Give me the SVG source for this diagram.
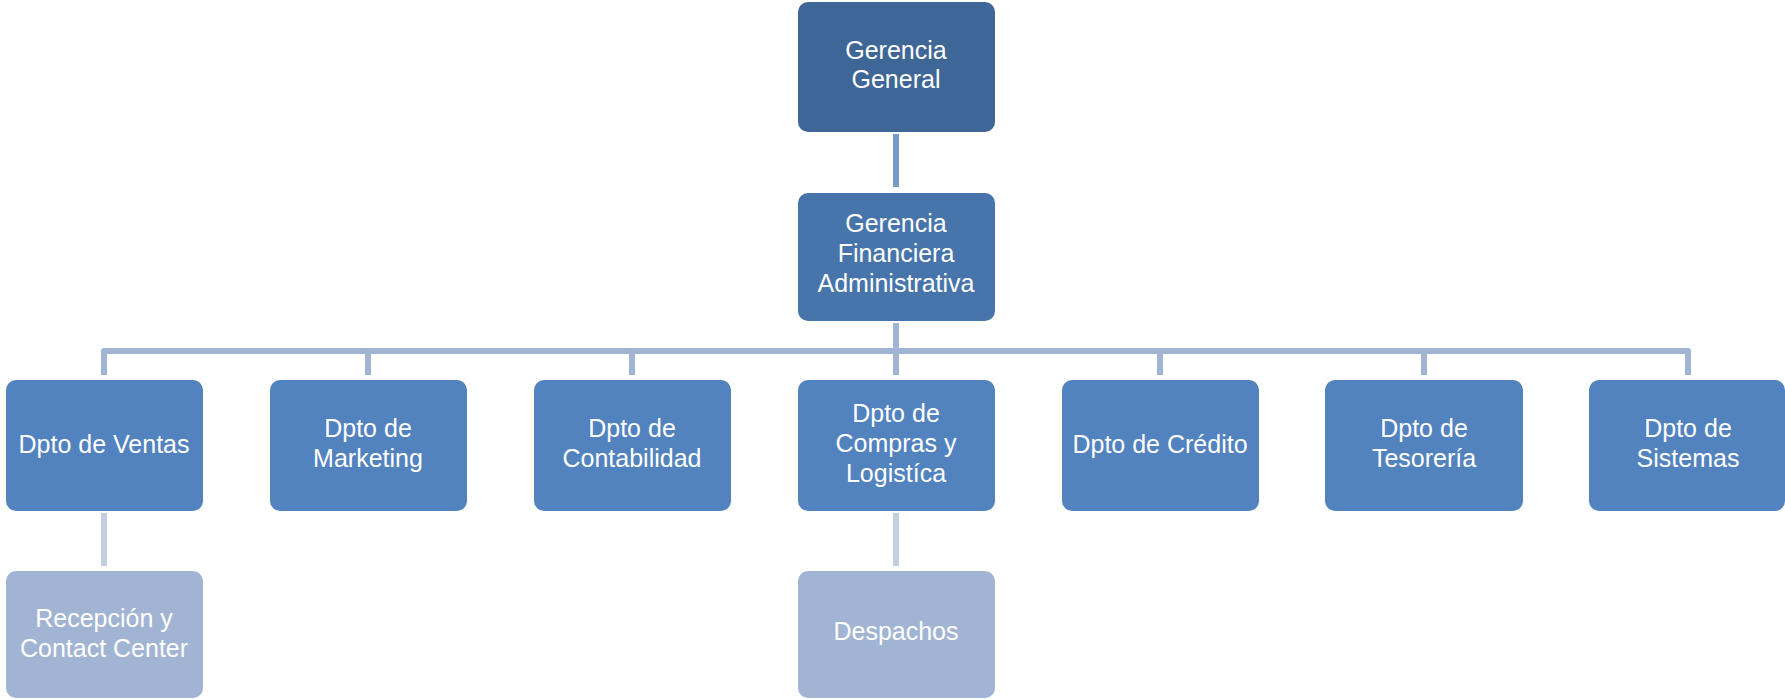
<svg xmlns="http://www.w3.org/2000/svg" width="1785" height="699" viewBox="0 0 1785 699">
<style>
  .lbl { font-family: "Liberation Sans", Arial, sans-serif; font-size: 25px; fill: #ffffff; text-anchor: middle; }
  .c1 { fill: #3e6697; }
  .c2 { fill: #4775ab; }
  .c3 { fill: #5283bf; }
  .c4 { fill: #a2b4d4; }
  .ln { fill: none; stroke-width: 6; stroke-linejoin: round; }
  .lnA { stroke: #7799c8; }
  .lnB { stroke: #a2b4d4; }
  .lnC { stroke: #c3cfe3; }
</style>
<rect width="1785" height="699" fill="#ffffff"/>
<g id="connectors">
  <path class="ln lnA" d="M896 134 V187"/>
  <path class="ln lnB" d="M896 323 V351 H104 V375"/>
  <path class="ln lnB" d="M896 351 H368 V375"/>
  <path class="ln lnB" d="M896 351 H632 V375"/>
  <path class="ln lnB" d="M896 323 V375"/>
  <path class="ln lnB" d="M896 351 H1160 V375"/>
  <path class="ln lnB" d="M896 351 H1424 V375"/>
  <path class="ln lnB" d="M896 351 H1688 V375"/>
  <path class="ln lnC" d="M104 513 V566"/>
  <path class="ln lnC" d="M896 513 V566"/>
</g>
<g id="gerencia-general">
  <rect class="c1" x="798" y="2" width="197" height="130" rx="10"/>
  <text class="lbl" x="896" y="59">Gerencia</text>
  <text class="lbl" x="896" y="88">General</text>
</g>
<g id="gerencia-financiera">
  <rect class="c2" x="798" y="193" width="197" height="128" rx="10"/>
  <text class="lbl" x="896" y="232">Gerencia</text>
  <text class="lbl" x="896" y="262">Financiera</text>
  <text class="lbl" x="896" y="292">Administrativa</text>
</g>
<g id="dpto-ventas">
  <rect class="c3" x="6" y="380" width="197" height="131" rx="10"/>
  <text class="lbl" x="104" y="453">Dpto de Ventas</text>
</g>
<g id="dpto-marketing">
  <rect class="c3" x="270" y="380" width="197" height="131" rx="10"/>
  <text class="lbl" x="368" y="437">Dpto de</text>
  <text class="lbl" x="368" y="467">Marketing</text>
</g>
<g id="dpto-contabilidad">
  <rect class="c3" x="534" y="380" width="197" height="131" rx="10"/>
  <text class="lbl" x="632" y="437">Dpto de</text>
  <text class="lbl" x="632" y="467">Contabilidad</text>
</g>
<g id="dpto-compras">
  <rect class="c3" x="798" y="380" width="197" height="131" rx="10"/>
  <text class="lbl" x="896" y="422">Dpto de</text>
  <text class="lbl" x="896" y="452">Compras y</text>
  <text class="lbl" x="896" y="482">Logistíca</text>
</g>
<g id="dpto-credito">
  <rect class="c3" x="1062" y="380" width="197" height="131" rx="10"/>
  <text class="lbl" x="1160" y="453">Dpto de Crédito</text>
</g>
<g id="dpto-tesoreria">
  <rect class="c3" x="1325" y="380" width="198" height="131" rx="10"/>
  <text class="lbl" x="1424" y="437">Dpto de</text>
  <text class="lbl" x="1424" y="467">Tesorería</text>
</g>
<g id="dpto-sistemas">
  <rect class="c3" x="1589" y="380" width="196" height="131" rx="10"/>
  <text class="lbl" x="1688" y="437">Dpto de</text>
  <text class="lbl" x="1688" y="467">Sistemas</text>
</g>
<g id="recepcion">
  <rect class="c4" x="6" y="571" width="197" height="127" rx="10"/>
  <text class="lbl" x="104" y="627">Recepción y</text>
  <text class="lbl" x="104" y="657">Contact Center</text>
</g>
<g id="despachos">
  <rect class="c4" x="798" y="571" width="197" height="127" rx="10"/>
  <text class="lbl" x="896" y="640">Despachos</text>
</g>
</svg>
